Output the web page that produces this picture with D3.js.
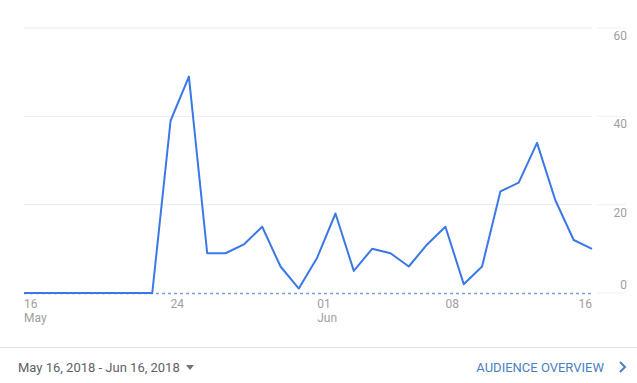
<!DOCTYPE html>
<html>
<head>
<meta charset="utf-8">
<script src="https://cdn.jsdelivr.net/npm/d3@7"></script>
<style>
  html, body { margin: 0; padding: 0; background: #fff; }
  svg { display: block; font-family: Roboto, "Noto Sans", sans-serif; }
</style>
</head>
<body>
<div id="chart"></div>
<script>
// data
const startDate = '2018-05-16';
const users = [0, 0, 0, 0, 0, 0, 0, 0, 39, 49, 9, 9, 11, 15, 6, 1,
               8, 18, 5, 10, 9, 6, 11, 15, 2, 6, 23, 25, 34, 21, 12, 10];
const yTicks = [0, 20, 40, 60];
const xTickDates = ['2018-05-16', '2018-05-24', '2018-06-01', '2018-06-08', '2018-06-16'];
const xTickLabels = [['16', 'May'], ['24'], ['01', 'Jun'], ['08'], ['16']];
const footerRange = 'May 16, 2018 - Jun 16, 2018';
const footerLink = 'AUDIENCE OVERVIEW';

const width = 637, height = 383;
const parse = d3.timeParse('%Y-%m-%d');
const t0 = parse(startDate);
const data = users.map((v, i) => ({ date: d3.timeDay.offset(t0, i), value: v }));

const svg = d3.select('#chart').append('svg')
    .attr('width', width)
    .attr('height', height);

const x = d3.scaleTime()
    .domain(d3.extent(data, d => d.date))
    .range([24, 592]);

const y = d3.scaleLinear()
    .domain([0, 60])
    .range([293, 28]);

// horizontal grid
const grid = svg.append('g');
grid.selectAll('line.g')
    .data(yTicks.filter(d => d !== 0))
    .join('line')
    .attr('class', 'g')
    .attr('x1', 24).attr('x2', 592)
    .attr('y1', d => y(d)).attr('y2', d => y(d))
    .attr('stroke', '#ebebeb');

// short tick segments beside labels
grid.selectAll('line.s')
    .data(yTicks)
    .join('line')
    .attr('class', 's')
    .attr('x1', 597).attr('x2', 626)
    .attr('y1', d => y(d)).attr('y2', d => y(d))
    .attr('stroke', '#f0f0f0');

// y labels
svg.append('g').selectAll('text')
    .data(yTicks)
    .join('text')
    .attr('x', 627)
    .attr('y', d => d === 0 ? y(d) - 4 : y(d) + 12)
    .attr('text-anchor', 'end')
    .attr('fill', '#9e9e9e')
    .style('font-size', '12px')
    .text(d => d);

// dotted baseline
svg.append('line')
    .attr('x1', x(data[0].date)).attr('x2', x(data[data.length - 1].date))
    .attr('y1', y(0) + 0.5).attr('y2', y(0) + 0.5)
    .attr('stroke', '#7c9fd6')
    .attr('stroke-width', 1.5)
    .attr('stroke-dasharray', '3,3');

// line
const line = d3.line()
    .x(d => x(d.date))
    .y(d => y(d.value));

svg.append('path')
    .datum(data)
    .attr('fill', 'none')
    .attr('stroke', '#3b78e7')
    .attr('stroke-width', 2)
    .attr('stroke-linejoin', 'round')
    .attr('d', line);

// x labels
const xl = svg.append('g').selectAll('text')
    .data(xTickDates.map((d, i) => ({ date: parse(d), lines: xTickLabels[i], last: i === xTickDates.length - 1 })))
    .join('text')
    .attr('x', d => x(d.date))
    .attr('y', 308)
    .attr('text-anchor', d => d.last ? 'end' : 'start')
    .attr('fill', '#9e9e9e')
    .style('font-size', '12px');

xl.selectAll('tspan')
    .data(d => d.lines.map(s => ({ s, x: x(d.date) })))
    .join('tspan')
    .attr('x', d => d.x)
    .attr('dy', (d, i) => i === 0 ? 0 : 14)
    .text(d => d.s);

// footer separator
svg.append('line')
    .attr('x1', 0).attr('x2', width)
    .attr('y1', 347.5).attr('y2', 347.5)
    .attr('stroke', '#e0e0e0');

svg.append('text')
    .attr('x', 18)
    .attr('y', 372)
    .attr('fill', '#616161')
    .style('font-size', '13px')
    .text(footerRange);

// dropdown arrow
svg.append('path')
    .attr('d', 'M186,365 L194,365 L190,370 Z')
    .attr('fill', '#757575');

svg.append('text')
    .attr('x', 604)
    .attr('y', 372)
    .attr('text-anchor', 'end')
    .attr('fill', '#4a7fc1')
    .style('font-size', '13px')
    .text(footerLink);

// chevron
svg.append('path')
    .attr('d', 'M620,362 L625,367 L620,372')
    .attr('fill', 'none')
    .attr('stroke', '#4a7fc1')
    .attr('stroke-width', 2);
</script>
</body>
</html>
